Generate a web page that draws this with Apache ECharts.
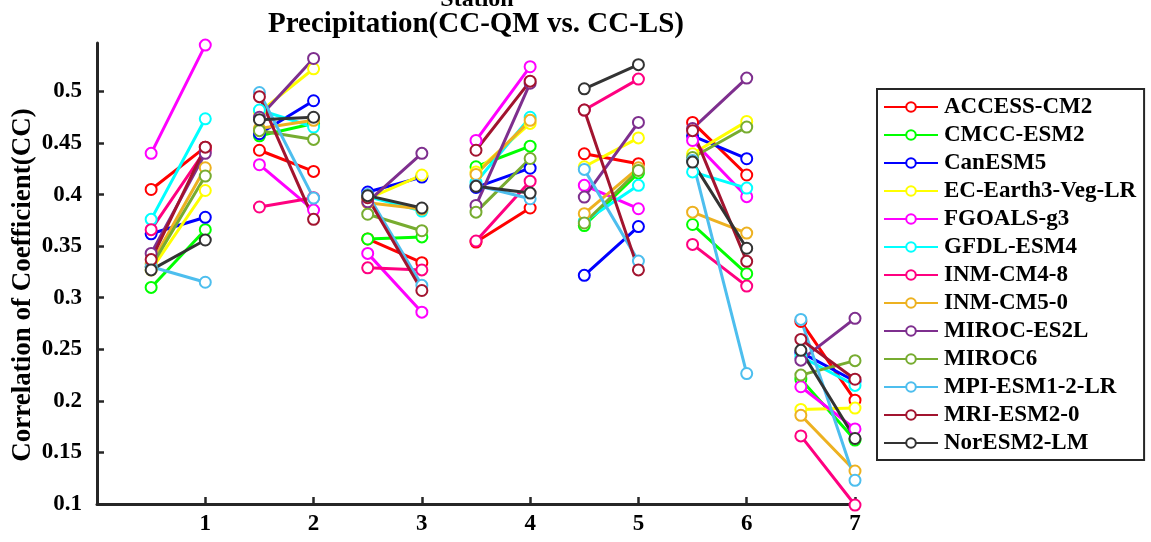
<!DOCTYPE html>
<html>
<head>
<meta charset="utf-8">
<script src="https://cdn.jsdelivr.net/npm/echarts@6/dist/echarts.min.js"></script>
<style>html,body{margin:0;padding:0;background:#fff;}#c{width:1151px;height:542px;}</style>
</head>
<body>
<div id="c"></div>
<script>
// Stations (x positions): CC-QM plotted at s-0.5, CC-LS at s
const stations = [1, 2, 3, 4, 5, 6, 7];
const yTicks = [0.1, 0.15, 0.2, 0.25, 0.3, 0.35, 0.4, 0.45, 0.5];
const modelNames = ['ACCESS-CM2','CMCC-ESM2','CanESM5','EC-Earth3-Veg-LR','FGOALS-g3','GFDL-ESM4','INM-CM4-8','INM-CM5-0','MIROC-ES2L','MIROC6','MPI-ESM1-2-LR','MRI-ESM2-0','NorESM2-LM'];
const modelColors = ['#FF0000','#00FF00','#0000FF','#FFFF00','#FF00FF','#00FFFF','#FF0080','#EDB120','#7E2F8E','#77AC30','#4DBEEE','#A2142F','#333333'];

// values per model: [QM1, LS1, QM2, LS2, ..., QM7, LS7]
const ACCESS_CM2    = [0.405,0.446, 0.443,0.4225, 0.357,0.334, 0.354,0.387, 0.4396,0.430, 0.470,0.419, 0.277,0.2007];
const CMCC_ESM2     = [0.310,0.366, 0.457,0.469, 0.357,0.359, 0.427,0.447, 0.370,0.421, 0.371,0.3233, 0.221,0.162];
const CanESM5       = [0.362,0.378, 0.459,0.491, 0.4025,0.417, 0.407,0.4256, 0.3217,0.369, 0.457,0.4348, 0.247,0.219];
const EC_Earth3     = [0.327,0.404, 0.480,0.522, 0.396,0.419, 0.422,0.469, 0.427,0.455, 0.4396,0.471, 0.1917,0.193];
const FGOALS_g3     = [0.440,0.545, 0.429,0.385, 0.343,0.286, 0.4525,0.524, 0.409,0.3863, 0.4525,0.398, 0.2137,0.1728];
const GFDL_ESM4     = [0.376,0.4735, 0.482,0.4655, 0.398,0.384, 0.412,0.475, 0.374,0.409, 0.422,0.4063, 0.243,0.215];
const INM_CM4_8     = [0.366,0.443, 0.388,0.397, 0.329,0.327, 0.355,0.413, 0.482,0.512, 0.3517,0.3113, 0.166,0.099];
const INM_CM5_0     = [0.333,0.426, 0.464,0.472, 0.392,0.386, 0.4196,0.472, 0.3815,0.426, 0.383,0.3627, 0.186,0.132];
const MIROC_ES2L    = [0.343,0.440, 0.475,0.532, 0.393,0.440, 0.3895,0.508, 0.3976,0.470, 0.464,0.513, 0.2395,0.280];
const MIROC6        = [0.330,0.418, 0.462,0.4535, 0.381,0.365, 0.383,0.435, 0.3725,0.4234, 0.436,0.4655, 0.225,0.239];
const MPI_ESM1_2_LR = [0.330,0.315, 0.499,0.3966, 0.400,0.312, 0.409,0.396, 0.4244,0.3355, 0.433,0.2265, 0.279,0.123];
const MRI_ESM2_0    = [0.337,0.446, 0.495,0.376, 0.397,0.307, 0.443,0.510, 0.482,0.327, 0.462,0.3353, 0.2596,0.221];
const NorESM2_LM    = [0.327,0.356, 0.4726,0.475, 0.399,0.387, 0.408,0.4015, 0.5026,0.526, 0.4315,0.348, 0.249,0.1635];

const modelValues = [ACCESS_CM2, CMCC_ESM2, CanESM5, EC_Earth3, FGOALS_g3, GFDL_ESM4, INM_CM4_8, INM_CM5_0, MIROC_ES2L, MIROC6, MPI_ESM1_2_LR, MRI_ESM2_0, NorESM2_LM];

const FONT = '"Liberation Serif", "Times New Roman", serif';
const AXC = '#262626';

function buildData(vals) {
  const d = [];
  stations.forEach((s, i) => {
    d.push([s - 0.5, vals[2 * i]]);
    d.push([s, vals[2 * i + 1]]);
    if (i < stations.length - 1) d.push([s + 0.25, '-']);
  });
  return d;
}

const series = modelNames.map((name, k) => ({
  name: name,
  type: 'line',
  data: buildData(modelValues[k]),
  connectNulls: false,
  clip: false,
  symbol: 'emptyCircle',
  symbolSize: 11,
  showAllSymbol: true,
  itemStyle: { color: modelColors[k], borderWidth: 3, borderColor: modelColors[k] },
  lineStyle: { color: modelColors[k], width: 3 },
  emphasis: { disabled: true },
  animation: false
}));

const chart = echarts.init(document.getElementById('c'), null, { renderer: 'canvas' });
chart.setOption({
  backgroundColor: '#fff',
  animation: false,
  graphic: [
    { type: 'text', x: 477, y: 0, style: { text: 'Station', font: 'bold 24px ' + FONT, fill: '#000', align: 'center', verticalAlign: 'middle' } },
    { type: 'text', x: 476, y: 25, style: { text: 'Precipitation(CC-QM vs. CC-LS)', font: 'bold 29px ' + FONT, fill: '#000', align: 'center', verticalAlign: 'middle' } },
    { type: 'text', x: 23, y: 285, rotation: Math.PI / 2, style: { text: 'Correlation of Coefficient(CC)', font: 'bold 27px ' + FONT, fill: '#000', align: 'center', verticalAlign: 'middle' } }
  ],
  grid: { left: 97, right: 296, top: 43, bottom: 38, containLabel: false, outerBoundsMode: 'none' },
  xAxis: {
    type: 'value', min: 0, max: 7, interval: 1,
    axisLine: { show: true, onZero: false, lineStyle: { color: AXC, width: 3 } },
    axisTick: { show: true, inside: true, length: 7, lineStyle: { color: AXC, width: 2.5 }, customValues: stations },
    axisLabel: { color: '#000', fontFamily: FONT, fontWeight: 'bold', fontSize: 23, margin: 9, customValues: stations },
    splitLine: { show: false }
  },
  yAxis: {
    type: 'value', min: 0.1, max: 0.547, interval: 0.05,
    axisLine: { show: true, onZero: false, lineStyle: { color: AXC, width: 3 } },
    axisTick: { show: true, inside: true, length: 7, lineStyle: { color: AXC, width: 2.5 }, customValues: yTicks },
    axisLabel: { color: '#000', fontFamily: FONT, fontWeight: 'bold', fontSize: 23, margin: 15, customValues: yTicks, formatter: v => String(+v.toFixed(2)) },
    splitLine: { show: false }
  },
  legend: {
    orient: 'vertical', left: 877, top: 89,
    padding: [6, 8, 5, 6],
    borderColor: AXC, borderWidth: 2, backgroundColor: '#fff',
    itemWidth: 54, itemHeight: 12, itemGap: 4,
    textStyle: { color: '#000', fontFamily: FONT, fontWeight: 'bold', fontSize: 23, lineHeight: 24, padding: [0,0,0,1] },
    data: modelNames
  },
  series: series
});
</script>
</body>
</html>
